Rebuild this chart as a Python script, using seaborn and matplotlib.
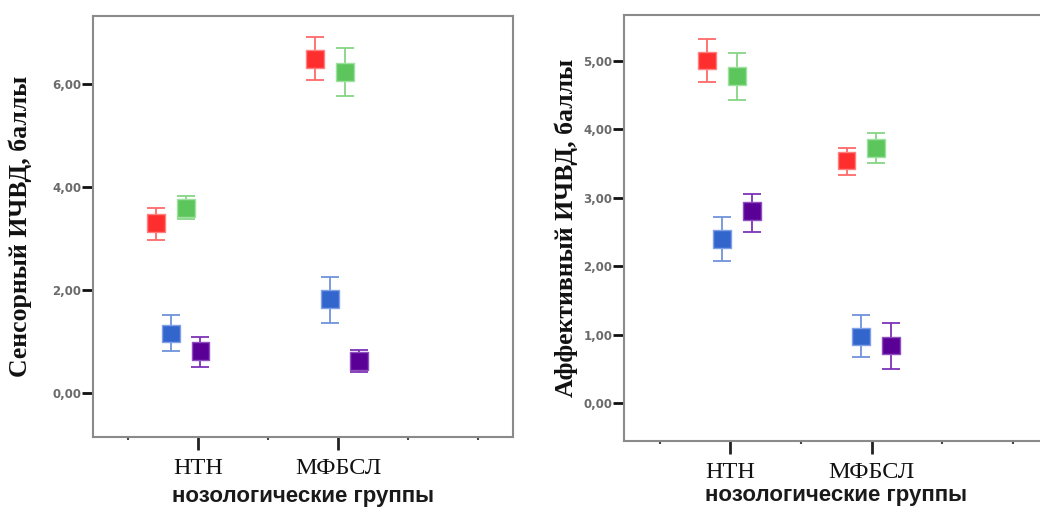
import numpy as np
import pandas as pd
import matplotlib
matplotlib.use("Agg")
import matplotlib.pyplot as plt
import seaborn as sns

# ---- data ----
groups = ["НТН", "МФБСЛ"]
series = ["s1", "s2", "s3", "s4"]  # red, blue, green, purple

sens_mean = {"s1": [3.30, 6.48], "s2": [1.16, 1.82], "s3": [3.60, 6.24], "s4": [0.82, 0.63]}
sens_lo   = {"s1": [2.97, 6.08], "s2": [0.81, 1.36], "s3": [3.38, 5.77], "s4": [0.50, 0.42]}
sens_hi   = {"s1": [3.59, 6.92], "s2": [1.51, 2.26], "s3": [3.83, 6.70], "s4": [1.10, 0.84]}

aff_mean = {"s1": [5.00, 3.54], "s2": [2.40, 0.97], "s3": [4.78, 3.72], "s4": [2.80, 0.84]}
aff_lo   = {"s1": [4.68, 3.33], "s2": [2.08, 0.67], "s3": [4.43, 3.50], "s4": [2.50, 0.50]}
aff_hi   = {"s1": [5.31, 3.73], "s2": [2.72, 1.28], "s3": [5.11, 3.94], "s4": [3.05, 1.17]}

ytick_vals_left = [0, 2, 4, 6]
ytick_vals_right = [0, 1, 2, 3, 4, 5]

ylabel_left = "Сенсорный ИЧВД, баллы"
ylabel_right = "Аффективный ИЧВД, баллы"
xlabel = "нозологические группы"

# ---- style ----
colors = {"s1": "#FF2E2E", "s2": "#3366CC", "s3": "#5CC65C", "s4": "#5A0096"}
err_colors = {"s1": "#FF6A6A", "s2": "#7093DB", "s3": "#86D686", "s4": "#7E33B5"}
edge_colors = {"s1": "#FF8080", "s2": "#80A0E8", "s3": "#A0E0A0", "s4": "#9050C0"}
dodge = {"s1": -0.315, "s2": -0.105, "s3": 0.105, "s4": 0.315}

sns.set_style("white")
plt.rcParams["font.family"] = ["DejaVu Sans"]

fig = plt.figure(figsize=(10.40, 5.07), dpi=100)
axL = fig.add_axes([93 / 1040, (507 - 437) / 507, 420 / 1040, 421 / 507])
axR = fig.add_axes([624.3 / 1040, (507 - 440.7) / 507, 424 / 1040, 425.4 / 507])


def build(mean, lo, hi, centers):
    rows = []
    for s in series:
        for gi, g in enumerate(groups):
            rows.append(dict(group=g, series=s, mean=mean[s][gi], lo=lo[s][gi],
                             hi=hi[s][gi], xpos=centers[gi] + dodge[s]))
    return pd.DataFrame(rows)


def draw(ax, df, ylim, yticks, ylabel, ylab_x, xlab_pad):
    for _, r in df.iterrows():
        ax.errorbar(r["xpos"], r["mean"],
                    yerr=[[r["mean"] - r["lo"]], [r["hi"] - r["mean"]]],
                    fmt="none", ecolor=err_colors[r["series"]], elinewidth=1.3,
                    capsize=6.5, capthick=1.3, zorder=2)
    sns.scatterplot(data=df, x="xpos", y="mean", hue="series", palette=colors,
                    marker="s", s=165, linewidth=1.0,
                    edgecolor=[edge_colors[s] for s in df["series"]],
                    legend=False, ax=ax, zorder=3)
    ax.set_xlim(-0.5, 5.5)
    ax.set_ylim(*ylim)
    ax.set_xticks([1, 3])
    ax.set_xticklabels(groups, family="Liberation Serif", fontsize=17.5, color="#111111")
    ax.set_xticks([0, 2, 4, 5], minor=True)
    ax.set_yticks(yticks)
    ax.set_yticklabels([f"{v:.2f}".replace(".", ",") for v in yticks],
                       family="DejaVu Sans", fontsize=8.5, fontweight="bold", color="#6a6a6a")
    ax.tick_params(axis="y", which="major", direction="out", length=8, width=2,
                   color="#111111", pad=0.5, left=True)
    ax.tick_params(axis="x", which="major", direction="out", length=9, width=2,
                   color="#222222", pad=6, bottom=True)
    ax.tick_params(axis="x", which="minor", direction="out", length=2, width=1.5,
                   color="#444444", bottom=True)
    for sp in ax.spines.values():
        sp.set_color("#8a8a8a")
        sp.set_linewidth(1.5)
        sp.set_visible(True)
    ax.set_xlabel(xlabel, family="Liberation Sans", fontweight="bold", fontsize=16,
                  color="#1a1a1a", labelpad=xlab_pad)
    ax.set_ylabel(ylabel, family="Liberation Serif", fontweight="bold", fontsize=18.5,
                  color="#111111")
    ax.yaxis.set_label_coords(ylab_x, 0.5)
    ax.grid(False)


dfL = build(sens_mean, sens_lo, sens_hi, [0.72, 2.99])
dfR = build(aff_mean, aff_lo, aff_hi, [0.99, 2.96])

draw(axL, dfL, (-0.85, 7.32), ytick_vals_left, ylabel_left, -0.145, 5)
draw(axR, dfR, (-0.55, 5.66), ytick_vals_right, ylabel_right, -0.11, 1.5)

fig.savefig("out.png", dpi=100)
